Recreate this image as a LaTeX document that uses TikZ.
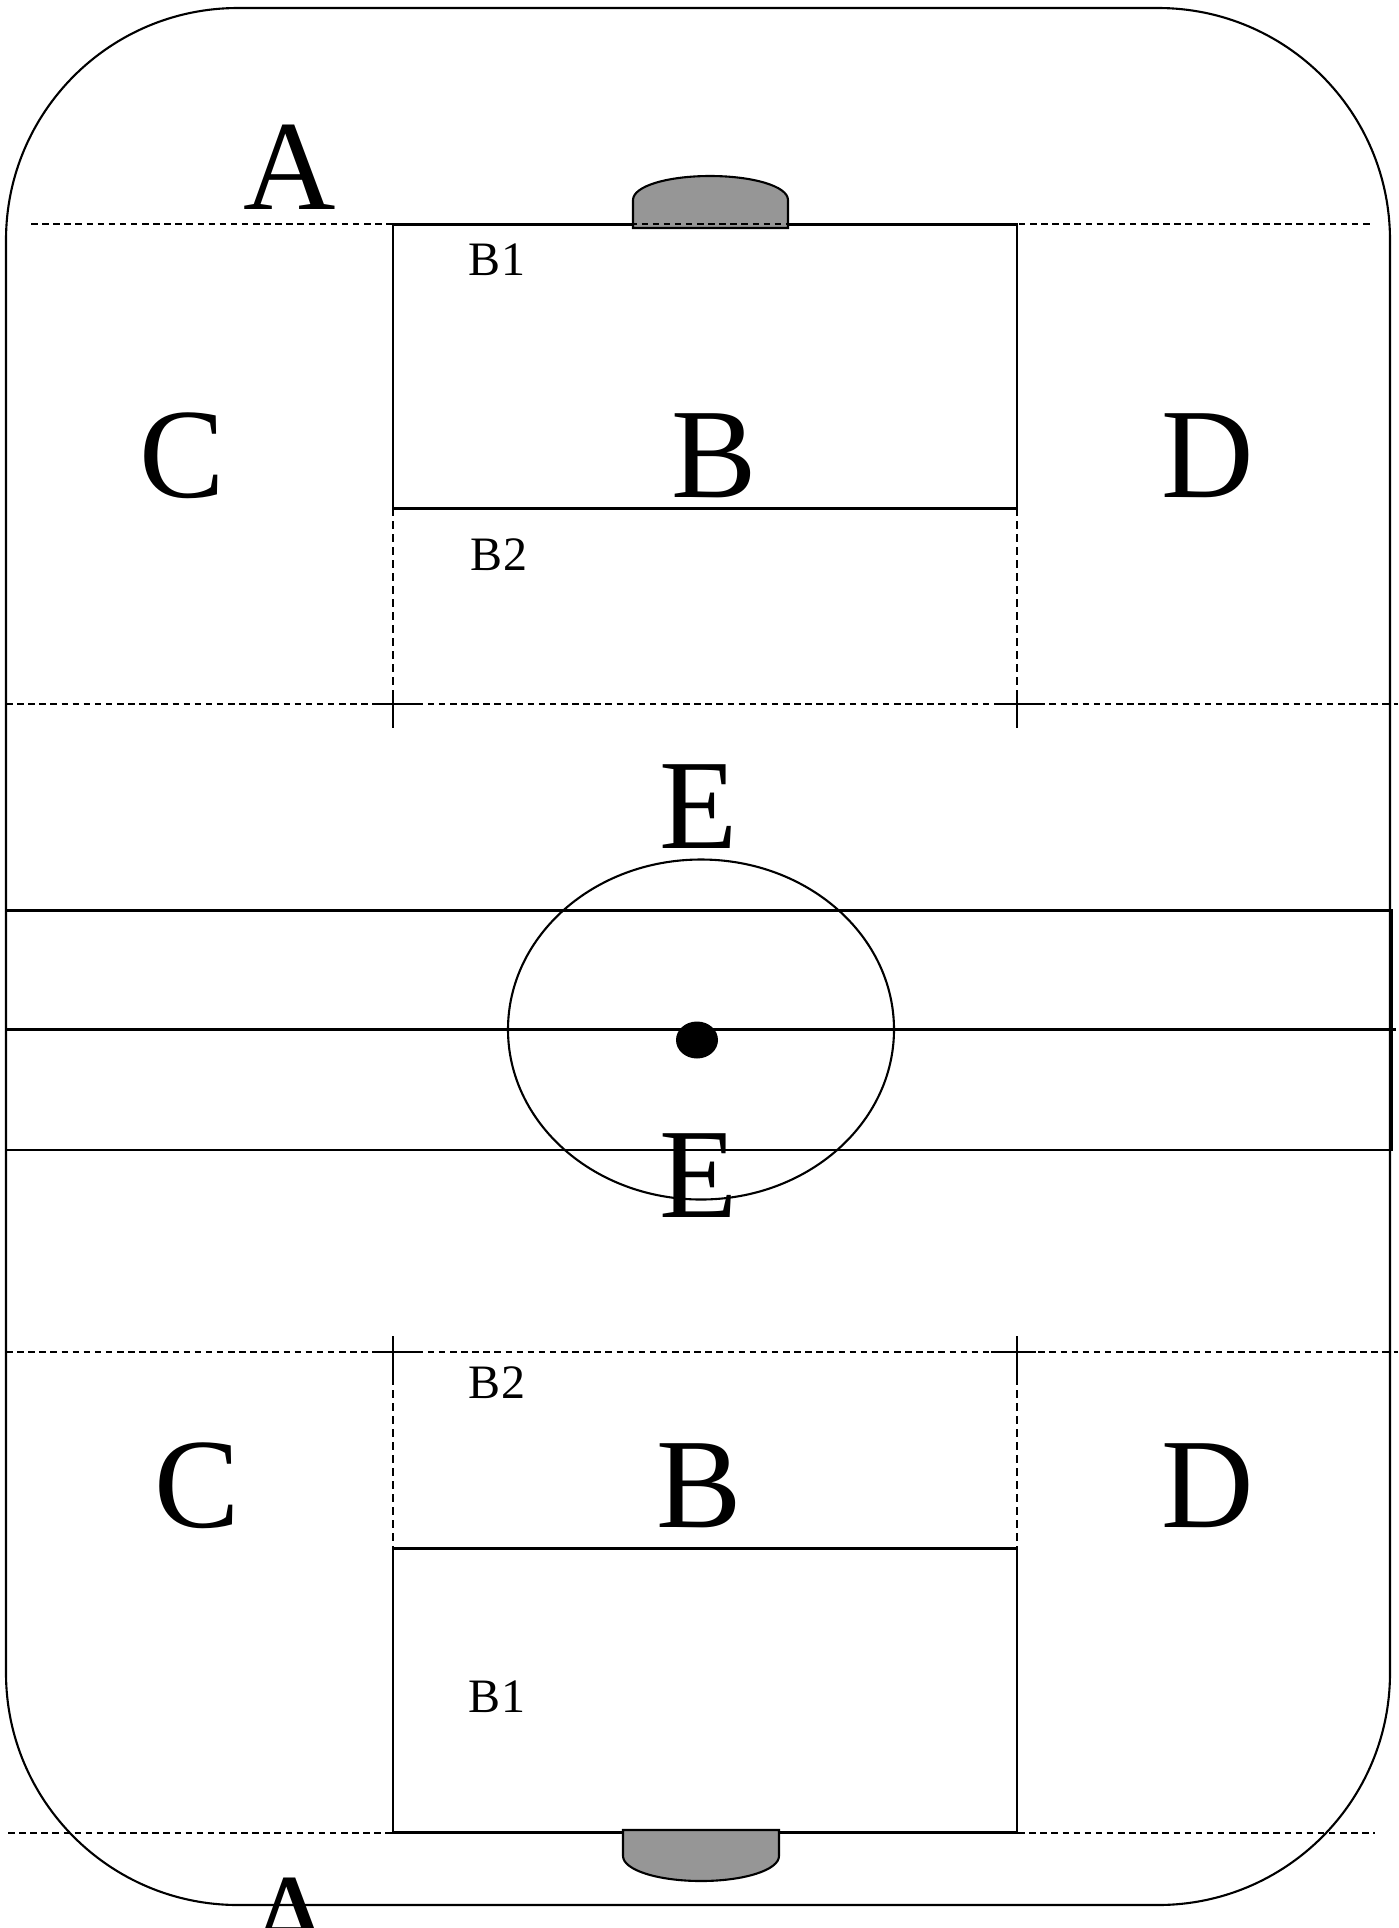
\documentclass[tikz,border=0pt]{standalone}
\usepackage{fontspec}
\setmainfont{Liberation Serif}
\tikzset{
  solidline/.style={draw=black,line width=2.1pt},
  dashline/.style={draw=black,line width=1.6pt,dash pattern=on 6.5pt off 4.6pt},
  dashvert/.style={draw=black,line width=1.6pt,dash pattern=on 8pt off 5pt},
  tickline/.style={draw=black,line width=2.2pt},
  puck/.style={draw=black,line width=2.1pt,fill=puckgray},
  biglabel/.style={inner sep=0pt,anchor=base,text=black,font=\fontsize{128}{128}\selectfont},
  smalllabel/.style={inner sep=0pt,anchor=base,text=black,font=\fontsize{48}{48}\selectfont}
}
\definecolor{puckgray}{HTML}{969696}
\begin{document}
\begin{tikzpicture}[x=1pt,y=-1pt]
\useasboundingbox (0,0) rectangle (1398,1928);
% rink outline
\draw[solidline,rounded corners=232pt] (6,8) rectangle (1390,1905);
% zones
\draw[solidline] (393,224.5) rectangle (1017,508.5);
\draw[solidline] (393,1548.5) rectangle (1017,1832.5);
% centre band
\draw[solidline] (6,910.5) rectangle (1392,1150);
\draw[solidline] (6,1029.5) -- (1396,1029.5);
\draw[solidline] (701,1029.5) ellipse [x radius=193pt,y radius=170pt];
\fill[black] (697,1040) ellipse [x radius=21pt,y radius=18.5pt];
% goals
\draw[puck] (633,228) -- (633,200) .. controls (633,186) and (668,176) .. (710,176) .. controls (752,176) and (788,186) .. (788,200) -- (788,228) -- cycle;
\draw[dashline] (31,224) -- (1372,224);
\draw[dashline] (8,1833) -- (1375,1833);
\draw[puck] (623,1830) -- (623,1856) .. controls (623,1870) and (658,1881) .. (701,1881) .. controls (744,1881) and (779,1870) .. (779,1856) -- (779,1830) -- cycle;
% dashed field lines
\draw[dashline] (6,704) -- (1398,704);
\draw[dashline] (6,1352) -- (1398,1352);
\draw[dashvert] (393,508) -- (393,692);
\draw[dashvert] (1017,508) -- (1017,692);
\draw[dashvert] (393,1377) -- (393,1548);
\draw[dashvert] (1017,1377) -- (1017,1548);
% crosses
\draw[tickline] (373,704) -- (418,704) (393,692) -- (393,728);
\draw[tickline] (998,704) -- (1042,704) (1017,692) -- (1017,728);
\draw[tickline] (373,1352) -- (418,1352) (393,1336) -- (393,1377);
\draw[tickline] (991,1352) -- (1036,1352) (1017,1336) -- (1017,1377);
% labels
\node[biglabel] (atop) at (290,209) {A};
\node[biglabel] (abot) at (291,1962) {A};
\node[biglabel] (ctop) at (182,497) {C};
\node[biglabel] (btop) at (714,497) {B};
\node[biglabel] (dtop) at (1208,497) {D};
\node[biglabel] (eup) at (699,848) {E};
\node[biglabel] (elow) at (699,1217) {E};
\node[biglabel] (cbot) at (197,1527) {C};
\node[biglabel] (bbot) at (699,1527) {B};
\node[biglabel] (dbot) at (1208,1527) {D};
\node[smalllabel] (bonetop) at (497,275) {B1};
\node[smalllabel] (btwotop) at (499,570) {B2};
\node[smalllabel] (btwobot) at (497,1398) {B2};
\node[smalllabel] (bonebot) at (497,1712) {B1};
\end{tikzpicture}
\end{document}
